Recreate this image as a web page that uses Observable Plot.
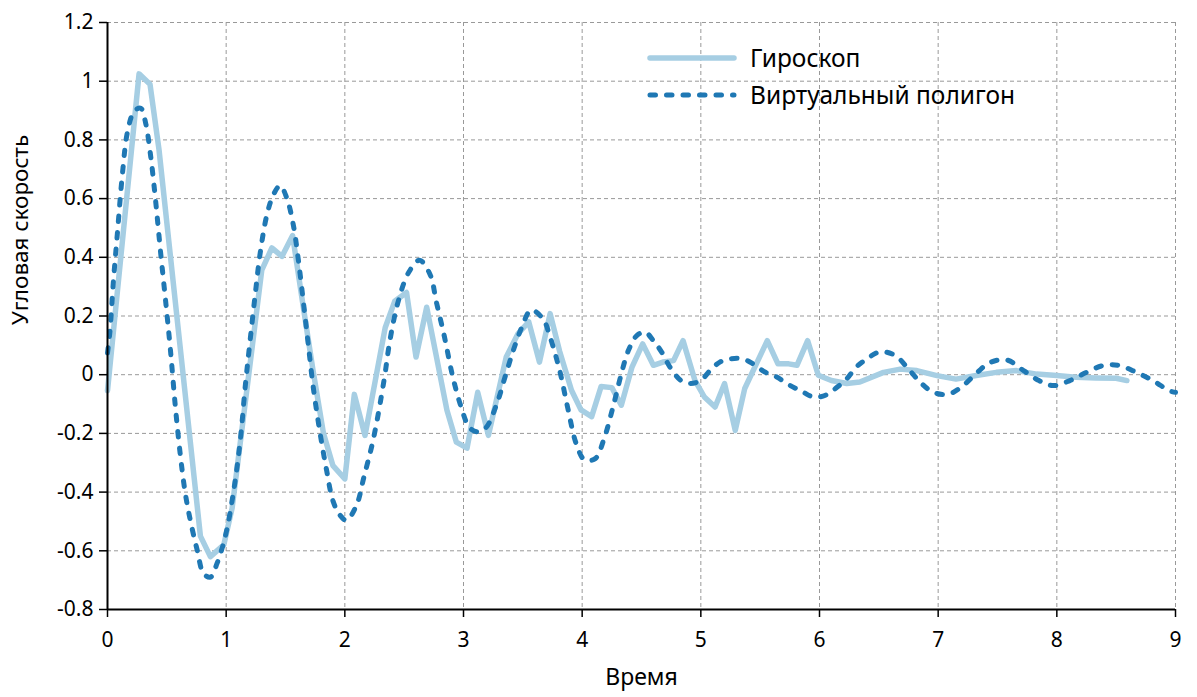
<!DOCTYPE html>
<html>
<head>
<meta charset="utf-8">
<script src="https://cdn.jsdelivr.net/npm/d3@7"></script>
<script src="https://cdn.jsdelivr.net/npm/@observablehq/plot@0.6"></script>
<style>
  html, body { margin: 0; padding: 0; background: #fff; }
  #wrap { position: relative; width: 1197px; height: 697px; font-family: "Noto Sans", "Open Sans", sans-serif; }
  #legend { position: absolute; left: 640px; top: 38px; }
</style>
</head>
<body>
<div id="wrap"></div>
<script>
// Gyroscope series (time, angular velocity)
const gyroT = [0, 0.266, 0.358, 0.434, 0.783, 0.867, 0.98, 1.05, 1.30, 1.385, 1.47, 1.56, 1.65, 1.73, 1.82, 1.90, 2.0,
  2.08, 2.17, 2.34, 2.42, 2.52, 2.60, 2.69, 2.86, 2.94, 3.03, 3.12, 3.21, 3.36, 3.46, 3.55, 3.64, 3.73, 3.81,
  3.91, 3.99, 4.08, 4.16, 4.25, 4.33, 4.42, 4.51, 4.60, 4.68, 4.77, 4.85, 4.95, 5.03, 5.12, 5.20, 5.29, 5.37,
  5.56, 5.65, 5.74, 5.81, 5.90, 5.99, 6.10, 6.23, 6.34, 6.54, 6.68, 6.82, 6.99, 7.15, 7.32, 7.49, 7.66, 7.83,
  8.0, 8.16, 8.33, 8.50, 8.59];
const gyroV = [-0.055, 1.025, 0.99, 0.767, -0.55, -0.62, -0.58, -0.455, 0.356, 0.432, 0.403, 0.474, 0.23, 0.02, -0.2, -0.31, -0.355,
  -0.067, -0.207, 0.16, 0.25, 0.28, 0.06, 0.23, -0.12, -0.23, -0.25, -0.06, -0.207, 0.06, 0.14, 0.18, 0.043, 0.208, 0.08,
  -0.053, -0.12, -0.143, -0.04, -0.044, -0.104, 0.026, 0.105, 0.032, 0.043, 0.048, 0.116, -0.019, -0.076, -0.11, -0.03, -0.19, -0.047,
  0.116, 0.037, 0.037, 0.032, 0.116, -0.002, -0.02, -0.03, -0.025, 0.008, 0.019, 0.014, -0.003, -0.015, -0.003, 0.008, 0.014, 0.002,
  -0.003, -0.009, -0.011, -0.012, -0.02];

// Virtual polygon series
const virtT = [0, 0.02, 0.05, 0.084, 0.126, 0.168, 0.224, 0.28, 0.32, 0.364, 0.406, 0.448, 0.49, 0.53, 0.573, 0.615, 0.657, 0.70,
  0.755, 0.81, 0.867, 0.923, 0.993, 1.063, 1.12, 1.16, 1.2, 1.245, 1.287, 1.343, 1.4, 1.455, 1.51, 1.566, 1.608, 1.65, 1.69,
  1.734, 1.79, 1.846, 1.90, 1.958, 2.014, 2.1, 2.16, 2.24, 2.33, 2.38, 2.45, 2.54, 2.63, 2.72, 2.77, 2.84, 2.91, 2.98, 3.05,
  3.12, 3.19, 3.28, 3.35, 3.42, 3.49, 3.57, 3.67, 3.73, 3.81, 3.88, 3.95, 4.02, 4.11, 4.18, 4.26, 4.33, 4.39, 4.46, 4.53,
  4.60, 4.67, 4.74, 4.83, 4.91, 5.0, 5.08, 5.16, 5.25, 5.35, 5.44, 5.54, 5.64, 5.75, 5.86, 5.95, 6.05, 6.15, 6.23, 6.31,
  6.40, 6.51, 6.64, 6.75, 6.85, 6.96, 7.09, 7.21, 7.33, 7.44, 7.58, 7.72, 7.85, 7.97, 8.11, 8.25, 8.39, 8.53, 8.67, 8.81,
  8.95, 9.0];
const virtV = [0.074, 0.145, 0.32, 0.485, 0.685, 0.826, 0.897, 0.908, 0.86, 0.744, 0.59, 0.415, 0.25, 0.086, -0.114, -0.278, -0.408, -0.50,
  -0.596, -0.678, -0.69, -0.643, -0.55, -0.396, -0.22, -0.043, 0.11, 0.274, 0.415, 0.544, 0.615, 0.644, 0.603, 0.51, 0.392, 0.25, 0.11,
  -0.043, -0.196, -0.325, -0.43, -0.478, -0.496, -0.443, -0.35, -0.22, -0.02, 0.117, 0.25, 0.35, 0.39, 0.34, 0.25, 0.128, -0.008, -0.11, -0.18,
  -0.195, -0.18, -0.1, -0.008, 0.083, 0.16, 0.22, 0.19, 0.128, 0.015, -0.116, -0.235, -0.29, -0.286, -0.224, -0.11, 0.003, 0.083, 0.133, 0.145,
  0.116, 0.077, 0.026, -0.019, -0.03, -0.019, 0.015, 0.043, 0.054, 0.054, 0.037, 0.009, -0.008, -0.036, -0.059, -0.076, -0.07, -0.042, -0.014, 0.026,
  0.054, 0.078, 0.065, 0.019, -0.026, -0.06, -0.066, -0.037, 0.008, 0.042, 0.05, 0.014, -0.02, -0.037, -0.02, 0.008, 0.031, 0.031, 0.008, -0.02,
  -0.055, -0.06];

const xTicks = [0, 1, 2, 3, 4, 5, 6, 7, 8, 9];
const yTicks = [-0.8, -0.6, -0.4, -0.2, 0, 0.2, 0.4, 0.6, 0.8, 1, 1.2];
const seriesNames = ["Гироскоп", "Виртуальный полигон"];
const xLabel = "Время";
const yLabel = "Угловая скорость";

const gyro = gyroT.map((t, i) => ({t, v: gyroV[i]}));
const virt = virtT.map((t, i) => ({t, v: virtV[i]}));

const colLight = "#a6cee3";
const colDark = "#1f78b4";
const fmt = d => String(+d.toFixed(1));
const FONT = '"Noto Sans", "Open Sans", sans-serif';
const DASH = "5.5,11";

const chart = Plot.plot({
  width: 1197,
  height: 697,
  marginLeft: 107,
  marginRight: 22,
  marginTop: 22,
  marginBottom: 88,
  style: {fontFamily: FONT, fontSize: "21px", color: "#000", background: "#fff"},
  x: {domain: [0, 9]},
  y: {domain: [-0.8, 1.2]},
  marks: [
    Plot.gridX(xTicks.slice(1), {stroke: "#999", strokeOpacity: 1, strokeWidth: 1, strokeDasharray: "4,3"}),
    Plot.gridY(yTicks.slice(1), {stroke: "#999", strokeOpacity: 1, strokeWidth: 1, strokeDasharray: "4,3"}),
    Plot.line(gyro, {x: "t", y: "v", stroke: colLight, strokeWidth: 5.5, strokeLinejoin: "round", strokeLinecap: "round"}),
    Plot.line(virt, {x: "t", y: "v", stroke: colDark, strokeWidth: 5, strokeDasharray: DASH, strokeLinecap: "round", strokeLinejoin: "round", curve: "catmull-rom"}),
    Plot.axisX(xTicks, {tickSize: 8, tickPadding: 15, strokeWidth: 1.5, tickFormat: fmt, fontSize: 21, label: null}),
    Plot.axisY(yTicks, {tickSize: 8, tickPadding: 6, strokeWidth: 1.5, tickFormat: fmt, fontSize: 21, label: null}),
    Plot.text([xLabel], {frameAnchor: "bottom", dy: 75, fontSize: 23, fill: "#000"}),
    Plot.text([yLabel], {frameAnchor: "left", rotate: -90, dx: -87, dy: 9, fontSize: 22.5, fill: "#000"}),
    Plot.ruleX([0], {stroke: "#000", strokeWidth: 2}),
    Plot.ruleY([-0.8], {stroke: "#000", strokeWidth: 2})
  ]
});

const wrap = document.getElementById("wrap");
wrap.appendChild(chart);

// Legend overlay
const ns = "http://www.w3.org/2000/svg";
const leg = document.createElementNS(ns, "svg");
leg.setAttribute("id", "legend");
leg.setAttribute("width", "420");
leg.setAttribute("height", "80");
const items = [
  {name: seriesNames[0], stroke: colLight, w: 5.5, dash: null},
  {name: seriesNames[1], stroke: colDark, w: 5, dash: DASH}
];
items.forEach((it, i) => {
  const y = 20 + i * 37;
  const ln = document.createElementNS(ns, "line");
  ln.setAttribute("x1", 10); ln.setAttribute("x2", 94);
  ln.setAttribute("y1", y); ln.setAttribute("y2", y);
  ln.setAttribute("stroke", it.stroke);
  ln.setAttribute("stroke-width", it.w);
  ln.setAttribute("stroke-linecap", "round");
  if (it.dash) ln.setAttribute("stroke-dasharray", it.dash);
  leg.appendChild(ln);
  const tx = document.createElementNS(ns, "text");
  tx.setAttribute("x", 110); tx.setAttribute("y", y);
  tx.setAttribute("dy", "0.35em");
  tx.setAttribute("font-size", "24.5");
  tx.setAttribute("font-family", FONT);
  tx.textContent = it.name;
  leg.appendChild(tx);
});
wrap.appendChild(leg);
</script>
</body>
</html>
